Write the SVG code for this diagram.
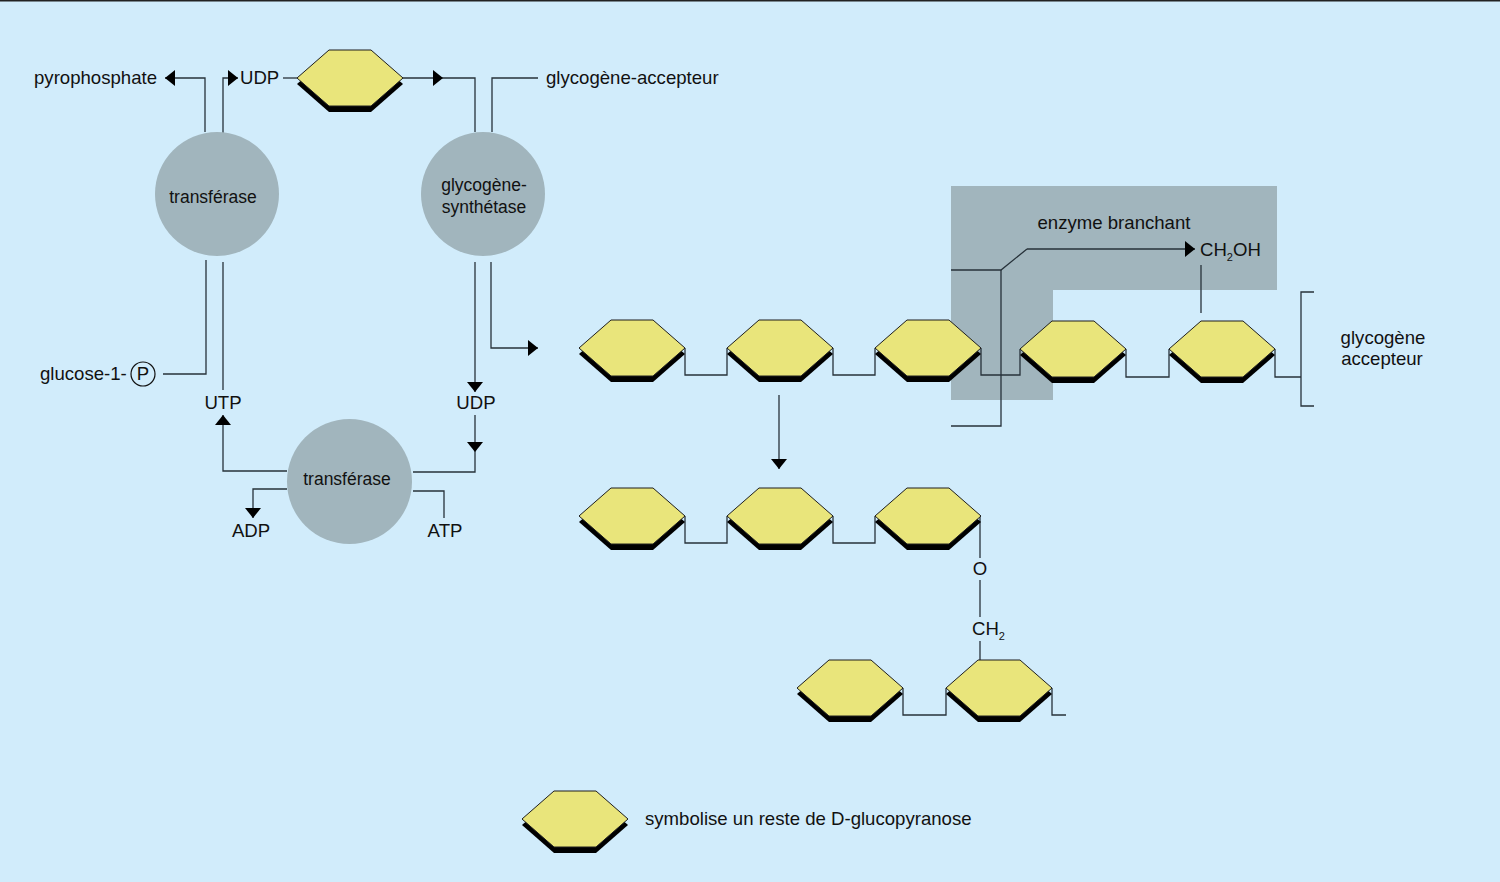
<svg xmlns="http://www.w3.org/2000/svg" width="1500" height="882" viewBox="0 0 1500 882">
<defs>
<style>
.bg{fill:#d1ecfb}
.ln{fill:none;stroke:#27323a;stroke-width:1.3}
.ar{fill:none;stroke:#27323a;stroke-width:1.3;marker-end:url(#ah)}
.enz{fill:#a1b5bd}
.t{font-family:"Liberation Sans",Arial,sans-serif;font-size:18.6px;fill:#111}
.tm{font-family:"Liberation Sans",Arial,sans-serif;font-size:18.6px;fill:#111;text-anchor:middle}
.tc{font-family:"Liberation Sans",Arial,sans-serif;font-size:17.5px;fill:#111;text-anchor:middle}
.sub{font-size:11px}
.hf{fill:#e9e57b;stroke:#1e1e1e;stroke-width:1}
.hs{fill:#000}
</style>
<marker id="ah" markerUnits="userSpaceOnUse" markerWidth="11" markerHeight="17" refX="10" refY="8" orient="auto">
<path d="M0,0 L10,8 L0,16 Z" fill="#000"/>
</marker>
<g id="hex">
<path class="hs" d="M-53,6 L-21,-22 L21,-22 L53,6 L21,34 L-21,34 Z"/>
<path class="hf" d="M-53,0 L-21,-28 L21,-28 L53,0 L21,28 L-21,28 Z"/>
</g>
</defs>
<rect class="bg" x="0" y="0" width="1500" height="882"/>
<line x1="0" y1="0.8" x2="1500" y2="0.8" stroke="#222" stroke-width="1.6"/>

<g id="branching-enzyme">
<path class="enz" d="M951,186 H1277 V290 H1053 V400 H951 Z"/>
<text class="tm" x="1114" y="229">enzyme branchant</text>
</g>

<g id="connectors">
<path class="ar" d="M205,132 V78 H165"/>
<path class="ar" d="M223,134 V78 H238"/>
<path class="ln" d="M283,78 H297"/>
<path class="ar" d="M403,78 H443"/>
<path class="ln" d="M443,78 H475 V132"/>
<path class="ln" d="M538,78 H492 V132"/>
<path class="ln" d="M163,374 H206 V260"/>
<path class="ln" d="M223,262 V390"/>
<path class="ar" d="M287,471 H223 V415"/>
<path class="ar" d="M475,262 V392"/>
<path class="ar" d="M475,415 V452"/>
<path class="ln" d="M475,452 V472 H413"/>
<path class="ar" d="M491,262 V348 H538"/>
<path class="ar" d="M287,489 H253 V518"/>
<path class="ln" d="M413,491 H444 V518"/>
<path class="ar" d="M779,395 V469"/>
<path class="ln" d="M685,348 V375 H727 V348"/>
<path class="ln" d="M833,348 V375 H875 V348"/>
<path class="ln" d="M981,348 V375 H1020 V349"/>
<path class="ln" d="M1126,349 V377 H1169 V349"/>
<path class="ln" d="M1275,349 V377 H1301"/>
<path class="ln" d="M1314,292 H1301 V406 H1314"/>
<path class="ln" d="M951,270 H1001 L1027,249"/>
<path class="ar" d="M1027,249 H1195"/>
<path class="ln" d="M1001,270 V426 H951"/>
<path class="ln" d="M1201,265 V313"/>
<path class="ln" d="M685,516 V543 H727 V516"/>
<path class="ln" d="M833,516 V543 H875 V516"/>
<path class="ln" d="M980,516 V558"/>
<path class="ln" d="M980,580 V617"/>
<path class="ln" d="M980,641 V660"/>
<path class="ln" d="M903,688 V715 H946 V688"/>
<path class="ln" d="M1052,688 V715 H1066"/>
</g>

<g id="transferase-1">
<circle cx="217" cy="194" r="62" fill="#a1b5bd"/>
<text class="tc" x="213" y="203">transférase</text>
</g>
<g id="glycogene-synthetase">
<circle cx="483" cy="194" r="62" fill="#a1b5bd"/>
<text class="tc" x="484" y="191">glycogène-</text>
<text class="tc" x="484" y="213">synthétase</text>
</g>
<g id="transferase-2">
<circle cx="349.5" cy="481.5" r="62.5" fill="#a1b5bd"/>
<text class="tc" x="347" y="485">transférase</text>
</g>

<g id="labels">
<text class="t" x="34" y="84">pyrophosphate</text>
<text class="t" x="240" y="84">UDP</text>
<text class="t" x="546" y="84">glycogène-accepteur</text>
<text class="t" x="40" y="380">glucose-1-</text>
<circle cx="143" cy="374" r="12" fill="none" stroke="#111" stroke-width="1.2"/>
<text class="tm" x="143" y="380">P</text>
<text class="tm" x="223" y="409">UTP</text>
<text class="tm" x="476" y="409">UDP</text>
<text class="tm" x="251" y="537">ADP</text>
<text class="tm" x="445" y="537">ATP</text>
<text class="t" x="1200" y="256">CH<tspan class="sub" dy="5">2</tspan><tspan dy="-5">OH</tspan></text>
<text class="tm" x="1383" y="344">glycogène</text>
<text class="tm" x="1382" y="365">accepteur</text>
<text class="tm" x="980" y="575">O</text>
<text class="t" x="972" y="635">CH<tspan class="sub" dy="5">2</tspan></text>
<text class="t" x="645" y="825">symbolise un reste de D-glucopyranose</text>
</g>

<g id="glucose-top"><use href="#hex" x="350" y="78"/></g>
<g id="chain-row1">
<use href="#hex" x="632" y="348"/>
<use href="#hex" x="780" y="348"/>
<use href="#hex" x="928" y="348"/>
<use href="#hex" x="1073" y="349"/>
<use href="#hex" x="1222" y="349"/>
</g>
<g id="chain-row2">
<use href="#hex" x="632" y="516"/>
<use href="#hex" x="780" y="516"/>
<use href="#hex" x="928" y="516"/>
</g>
<g id="chain-row3">
<use href="#hex" x="850" y="688"/>
<use href="#hex" x="999" y="688"/>
</g>
<g id="legend">
<use href="#hex" x="575" y="819"/>
</g>
</svg>
